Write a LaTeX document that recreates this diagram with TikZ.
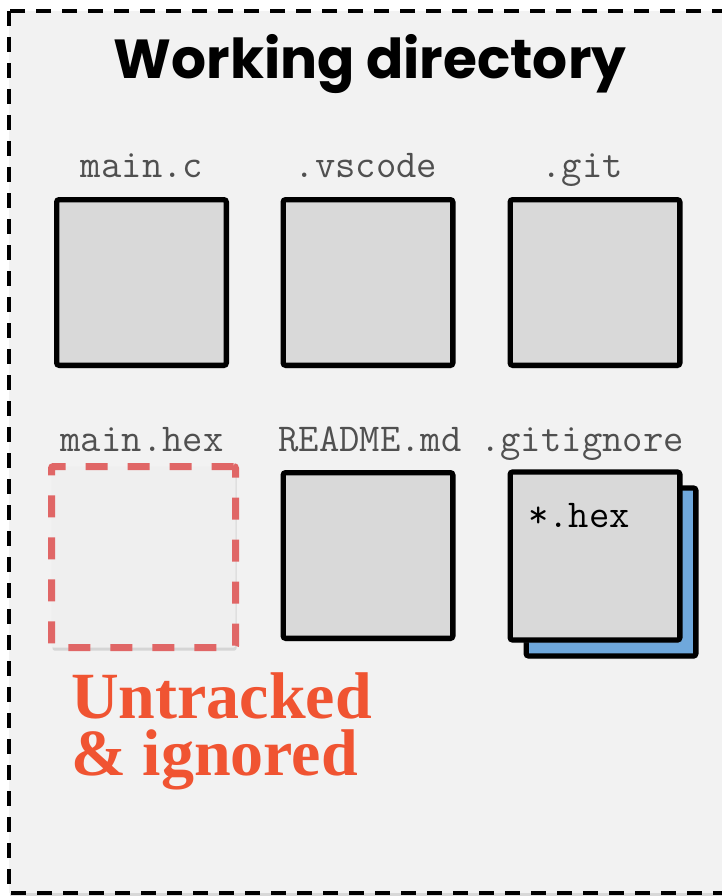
\documentclass[tikz,border=0pt]{standalone}
\usepackage{fontspec}
\setmainfont{Liberation Serif}
\newfontfamily\titlefont{Poppins}
\newfontfamily\codefont{Latin Modern Mono}
\usetikzlibrary{shadows}
\definecolor{bgc}{HTML}{F2F2F2}
\definecolor{boxc}{HTML}{D9D9D9}
\definecolor{lblc}{HTML}{505050}
\definecolor{redd}{HTML}{E06666}
\definecolor{redfill}{HTML}{EFEFEF}
\definecolor{bluec}{HTML}{6FA8DC}
\definecolor{orangec}{HTML}{F05432}
\tikzset{
  shd/.style={drop shadow={shadow xshift=1pt,shadow yshift=-3pt,opacity=0.25}},
  filebox/.style={draw=black,line width=5.3pt,fill=boxc,rounded corners=2.5pt,
    minimum width=169.7pt,minimum height=165.7pt,inner sep=0pt,shd},
  fname/.style={font=\codefont\fontsize{39.5}{40}\selectfont,text=lblc,anchor=base,inner sep=0pt},
}
\begin{document}
\begin{tikzpicture}[x=1pt,y=-1pt]
\useasboundingbox (0,0) rectangle (722,896);
\clip (0,0) rectangle (722,896);
\fill[white] (0,0) rectangle (722,896);
% outer frame
\draw[fill=bgc,line width=3.8pt,dash pattern=on 15pt off 11pt,
  drop shadow={shadow xshift=1pt,shadow yshift=-3pt,opacity=0.3}]
  (9,11) rectangle (760,893);
\node[font=\titlefont\bfseries\fontsize{55}{60}\selectfont,anchor=base,inner sep=0pt] (title) at (370,79) {Working directory};
% row 1
\node[filebox] (mainc) at (141.5,282.5) {};
\node[filebox] (vscode) at (368,282.5) {};
\node[filebox] (git) at (595,282.5) {};
\node[fname] (lmainc) at (142,178) {main.c};
\node[fname] (lvscode) at (366,178) {.vscode};
\node[fname] (lgit) at (582,178) {.git};
% row 2
\node[draw=redd,line width=7pt,dash pattern=on 22pt off 20pt,fill=redfill,rounded corners=2pt,
  minimum width=184pt,minimum height=181pt,inner sep=0pt,shd] (hex) at (143.5,557) {};
\node[filebox] (readme) at (368,555.5) {};
\node[filebox,fill=bluec,minimum height=168pt] (giback) at (611,572) {};
\node[filebox,minimum height=168pt] (gitignore) at (595,556) {};
\node[fname] (lhex) at (142,451) {main.hex};
\node[fname] (lreadme) at (370,451) {README.md};
\node[fname] (lgitignore) at (582,451) {.gitignore};
\node[font=\codefont\fontsize{39.5}{40}\selectfont,text=black,anchor=base west,inner sep=0pt] (pattern) at (528,527) {*.hex};
% caption
\node[font=\bfseries\fontsize{66}{57}\selectfont,text=orangec,anchor=base west,inner sep=0pt,
  align=left] (untr) at (71,775) {Untracked\\\& ignored};
\end{tikzpicture}
\end{document}
